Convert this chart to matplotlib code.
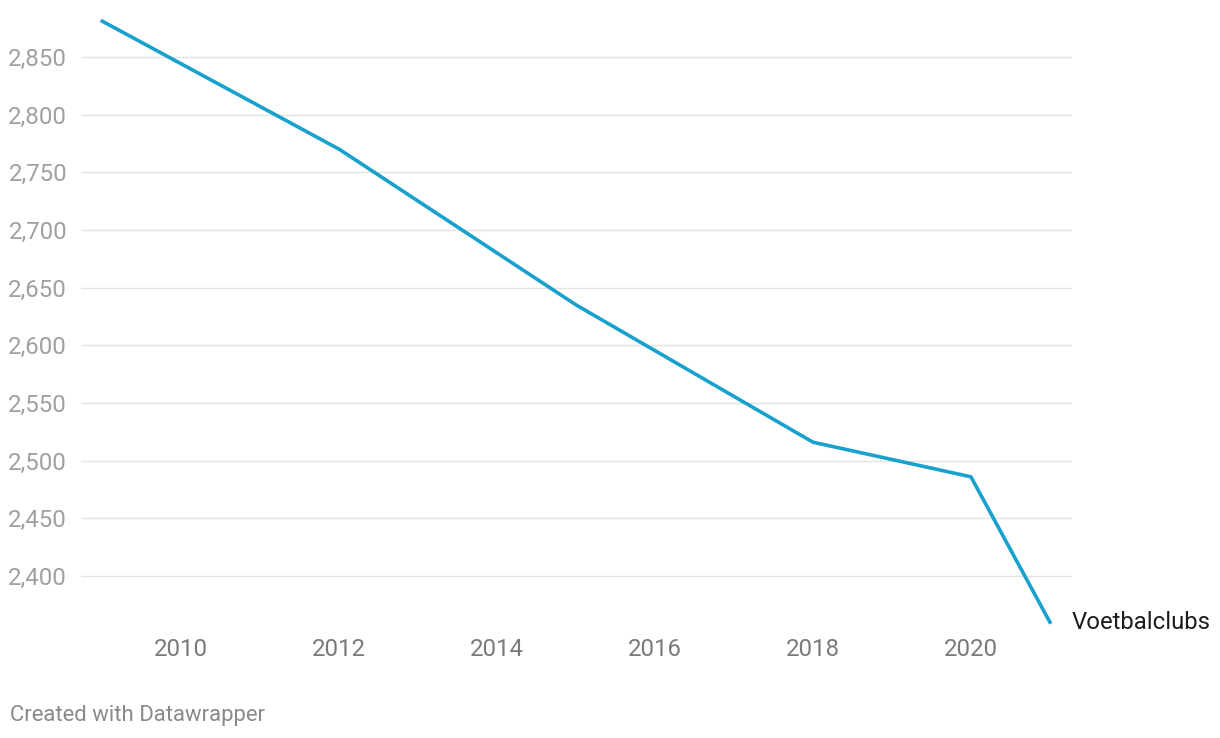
import matplotlib.pyplot as plt

plt.rcParams['font.family'] = ['Roboto', 'DejaVu Sans']

years = [2009, 2012, 2015, 2018, 2020, 2021]
clubs = [2881, 2770, 2635, 2516, 2486, 2360]
series_label = "Voetbalclubs"
y_ticks = [2400, 2450, 2500, 2550, 2600, 2650, 2700, 2750, 2800, 2850]
x_ticks = [2010, 2012, 2014, 2016, 2018, 2020]

fig = plt.figure(figsize=(12.2, 7.38), dpi=100)
ax = fig.add_axes([81 / 1220, 1 - 627.9 / 738, (1072 - 81) / 1220, (627.9 - 16.6) / 738])

ax.plot(years, clubs, color='#18a1cd', linewidth=2.6, solid_joinstyle='round', zorder=3)
ax.text(years[-1] + 0.28, clubs[-1], series_label, fontsize=17.2, color='#1d1d1d',
        va='center', ha='left')

ax.set_xlim(2008.73, 2021.28)
ax.set_ylim(2355, 2885)
ax.set_yticks(y_ticks)
ax.set_yticklabels([f"{v:,}" for v in y_ticks])
ax.set_xticks(x_ticks)
ax.yaxis.grid(True, color='#e3e3e3', linewidth=1)
ax.set_axisbelow(True)
for s in ax.spines.values():
    s.set_visible(False)
ax.tick_params(axis='y', length=0, pad=10, labelsize=17.3, labelcolor='#a0a0a0')
ax.tick_params(axis='x', length=0, pad=7, labelsize=17.3, labelcolor='#7a7a7a')

fig.text(10 / 1220, 1 - 715 / 738, "Created with Datawrapper", fontsize=15.9,
         color='#8a8a8a', va='center', ha='left')

fig.savefig('out.png', dpi=100)
